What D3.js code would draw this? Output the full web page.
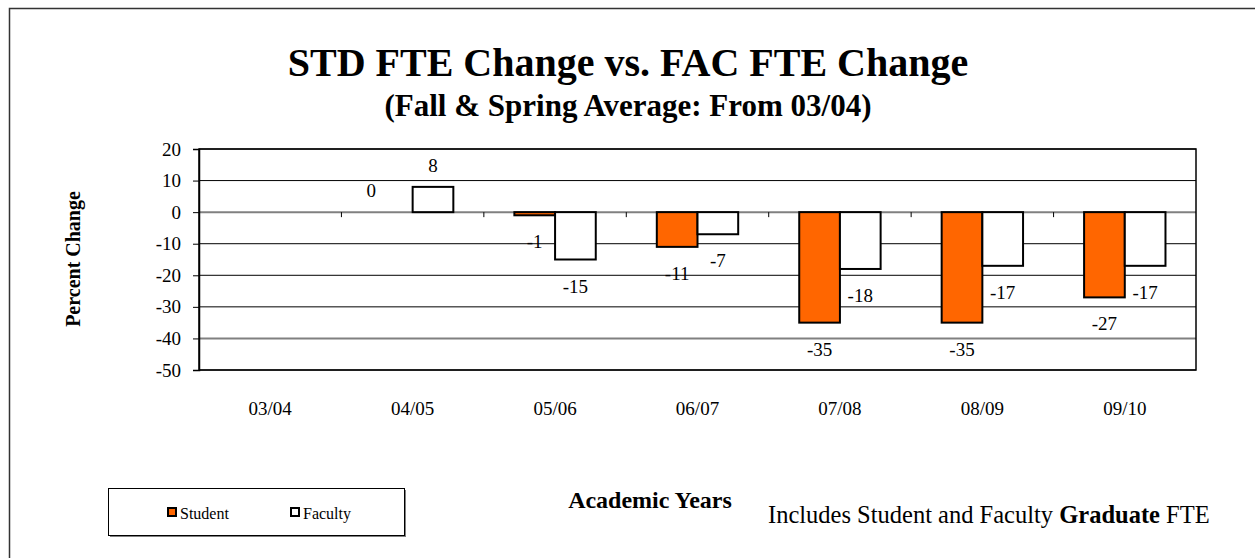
<!DOCTYPE html>
<html><head><meta charset="utf-8">
<script src="https://cdn.jsdelivr.net/npm/d3@7"></script>
<style>body{margin:0;background:#fff}svg{display:block}svg text{font-family:"Liberation Serif","Times New Roman",serif !important}</style>
</head><body><svg id="c" width="1255" height="558"></svg>
<script>
const categories = ["03/04","04/05","05/06","06/07","07/08","08/09","09/10"];
const studentValues = [null, 0, -1, -11, -35, -35, -27];
const facultyValues = [null, 8, -15, -7, -18, -17, -17];
const yTicks = [20, 10, 0, -10, -20, -30, -40, -50];
const seriesNames = ["Student", "Faculty"];
const seriesColors = ["#FF6600", "#FFFFFF"];

const svg = d3.select("#c");
// outer frame
svg.append("rect").attr("x", 9.5).attr("y", 8.5).attr("width", 1300).attr("height", 600)
  .attr("fill", "none").attr("stroke", "#333").attr("stroke-width", 1.5);

const L = 199, R = 1196, T = 149, B = 370;
const x = d3.scaleBand().domain(categories).range([L, R]).paddingInner(0).paddingOuter(0);
const x1 = d3.scaleBand().domain(seriesNames).range([0, x.bandwidth()]).paddingInner(0).paddingOuter(0.75);
const y = d3.scaleLinear().domain([-50, 20]).range([B, T]);

// gridlines
svg.append("g").selectAll("line").data(yTicks).join("line")
  .attr("x1", L).attr("x2", R).attr("y1", d => y(d)).attr("y2", d => y(d))
  .attr("stroke", d => (d === 0 || d === -40) ? "#808080" : "#000")
  .attr("stroke-width", d => (d === 0 || d === -40) ? 2 : 1);

// plot border
svg.append("rect").attr("x", L).attr("y", T).attr("width", R - L).attr("height", B - T)
  .attr("fill", "none").attr("stroke", "#000").attr("stroke-width", 1.5);

// y axis
const yAxis = d3.axisLeft(y).tickValues(yTicks).tickSize(6).tickPadding(12).tickFormat(d => String(d));
const ga = svg.append("g").attr("transform", `translate(${L},0)`).call(yAxis);
ga.attr("font-family", null).attr("font-size", null);
ga.select(".domain").attr("stroke", "#000").attr("stroke-width", 1.5);
ga.selectAll(".tick line").attr("stroke", "#000");
ga.selectAll(".tick text").attr("font-size", 19).attr("fill", "#000");

// category ticks on zero line
svg.append("g").selectAll("line").data(categories.slice(1)).join("line")
  .attr("x1", d => x(d)).attr("x2", d => x(d)).attr("y1", y(0)).attr("y2", y(0) + 5)
  .attr("stroke", "#000").attr("stroke-width", 1);

// category labels
svg.append("g").selectAll("text").data(categories).join("text")
  .attr("x", d => x(d) + x.bandwidth() / 2).attr("y", 415).attr("text-anchor", "middle")
  .attr("font-size", 19).text(d => d);

// bars
const series = [studentValues, facultyValues];
series.forEach((vals, si) => {
  const g = svg.append("g");
  const data = categories.map((c, i) => ({c, v: vals[i]})).filter(d => d.v !== null);
  g.selectAll("rect").data(data).join("rect")
    .attr("x", d => x(d.c) + x1(seriesNames[si]))
    .attr("width", x1.bandwidth())
    .attr("y", d => y(Math.max(0, d.v)))
    .attr("height", d => Math.abs(y(d.v) - y(0)))
    .attr("fill", seriesColors[si]).attr("stroke", "#000").attr("stroke-width", 2);
  g.selectAll("text").data(data).join("text")
    .attr("x", d => x(d.c) + x1(seriesNames[si]) + x1.bandwidth() / 2 + (d.v === 0 ? -21 : 0))
    .attr("y", d => d.v >= 0 ? y(d.v) - 15 : y(d.v) + 33)
    .attr("text-anchor", "middle").attr("font-size", 19).text(d => String(d.v));
});

// titles
svg.append("text").attr("x", 628).attr("y", 76).attr("text-anchor", "middle")
  .attr("font-size", 40).attr("font-weight", "bold").text("STD FTE Change vs. FAC FTE Change");
svg.append("text").attr("x", 628).attr("y", 116).attr("text-anchor", "middle")
  .attr("font-size", 31).attr("font-weight", "bold").text("(Fall & Spring Average: From 03/04)");
svg.append("text").attr("transform", "translate(80,259) rotate(-90)").attr("text-anchor", "middle")
  .attr("font-size", 20).attr("font-weight", "bold").text("Percent Change");
svg.append("text").attr("x", 650).attr("y", 508).attr("text-anchor", "middle")
  .attr("font-size", 24).attr("font-weight", "bold").text("Academic Years");

// note
const note = svg.append("text").attr("x", 768).attr("y", 523).attr("font-size", 24.5);
note.append("tspan").text("Includes Student and Faculty ");
note.append("tspan").attr("font-weight", "bold").text("Graduate");
note.append("tspan").text(" FTE");

// legend
svg.append("rect").attr("x", 110).attr("y", 490).attr("width", 296).attr("height", 47)
  .attr("fill", "#808080");
svg.append("rect").attr("x", 108.5).attr("y", 488.5).attr("width", 296).attr("height", 47)
  .attr("fill", "#fff").attr("stroke", "#000").attr("stroke-width", 1);
const legX = [168, 291];
seriesNames.forEach((n, i) => {
  svg.append("rect").attr("x", legX[i]).attr("y", 508).attr("width", 8).attr("height", 8)
    .attr("fill", seriesColors[i]).attr("stroke", "#000").attr("stroke-width", 2);
  svg.append("text").attr("x", legX[i] + 12).attr("y", 519).attr("font-size", 16).text(n);
});
</script></body></html>
